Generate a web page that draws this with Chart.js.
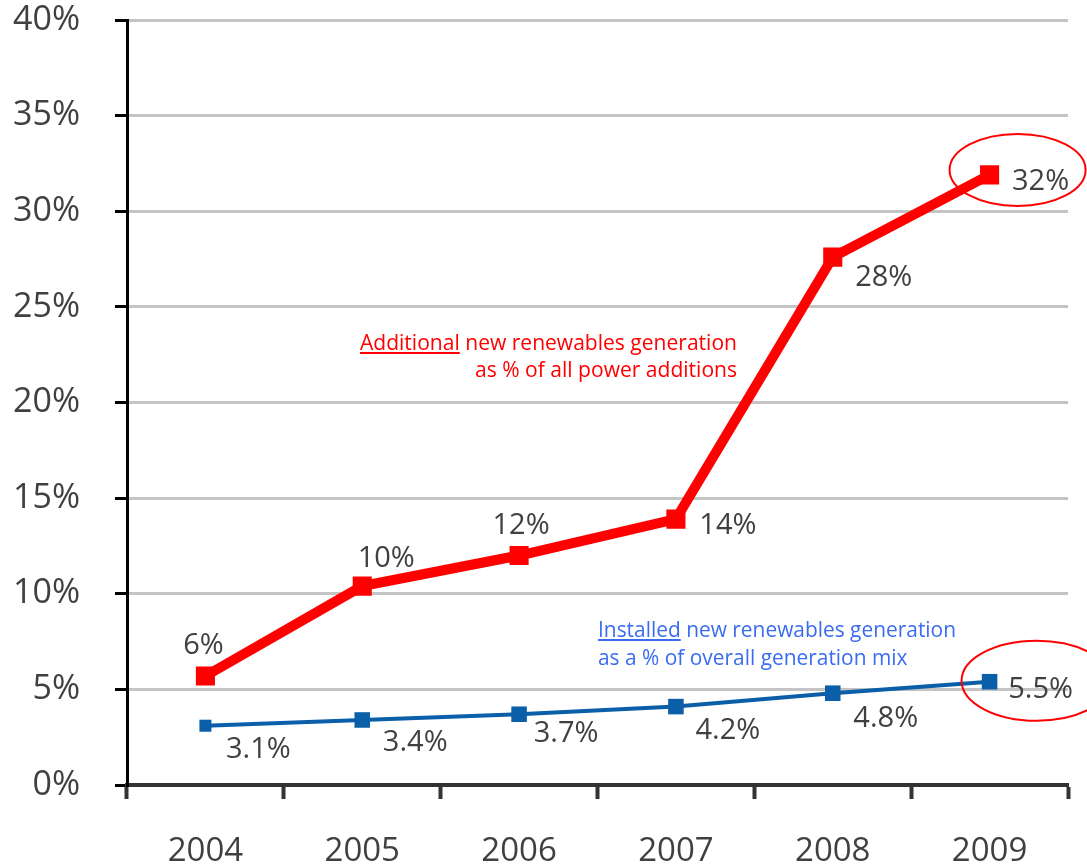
<!DOCTYPE html>
<html>
<head>
<meta charset="utf-8">
<script src="https://cdn.jsdelivr.net/npm/chart.js@4.4.0/dist/chart.umd.min.js"></script>
<style>
  body { margin: 0; background: #fff; }
  canvas { display: block; }
</style>
</head>
<body>
<canvas id="chart" width="1087" height="865"></canvas>
<script>
const years = ['2004', '2005', '2006', '2007', '2008', '2009'];
const additionsShare = [5.7, 10.4, 12.0, 13.9, 27.6, 31.9];
const additionsLabels = ['6%', '10%', '12%', '14%', '28%', '32%'];
const mixShare = [3.1, 3.4, 3.7, 4.1, 4.8, 5.4];
const mixLabels = ['3.1%', '3.4%', '3.7%', '4.2%', '4.8%', '5.5%'];
const yTicks = [0, 5, 10, 15, 20, 25, 30, 35, 40];

// label offsets from their point (style only)
const redLabelOffsets = [[-2, -32], [24, -29], [2, -32], [52, 5], [51, 19], [51, 5]];
const blueLabelOffsets = [[53, 22], [53, 21], [47, 18], [52, 22], [53, 24], [51, 6]];

const FONT = '"Open Sans", "Noto Sans", sans-serif';

function drawNote(ctx, lines, x, y0, lineGap, align, color, targetWidth, underlined) {
  ctx.save();
  ctx.font = '22px ' + FONT;
  const k = Math.min(1, targetWidth / ctx.measureText(lines[0]).width);
  ctx.fillStyle = color;
  ctx.strokeStyle = color;
  ctx.textBaseline = 'alphabetic';
  lines.forEach((line, i) => {
    const w = ctx.measureText(line).width * k;
    const left = align === 'right' ? x - w : x;
    const y = y0 + i * lineGap;
    ctx.save();
    ctx.translate(left, y);
    ctx.scale(k, 1);
    ctx.textAlign = 'left';
    ctx.fillText(line, 0, 0);
    ctx.restore();
    if (i === 0 && underlined) {
      const uw = ctx.measureText(underlined).width * k;
      ctx.lineWidth = 2;
      ctx.beginPath();
      ctx.moveTo(left, y + 3);
      ctx.lineTo(left + uw, y + 3);
      ctx.stroke();
    }
  });
  ctx.restore();
}

const extrasPlugin = {
  id: 'extras',
  afterDatasetsDraw(chart) {
    const ctx = chart.ctx;
    ctx.save();
    ctx.font = '29px ' + FONT;
    ctx.fillStyle = '#404040';
    ctx.textAlign = 'center';
    ctx.textBaseline = 'alphabetic';
    [[0, additionsLabels, redLabelOffsets], [1, mixLabels, blueLabelOffsets]].forEach(([di, texts, offs]) => {
      chart.getDatasetMeta(di).data.forEach((pt, i) => {
        ctx.fillText(texts[i], pt.x + offs[i][0], pt.y + offs[i][1] + 10);
      });
    });

    // circles around the 2009 values
    const red = chart.getDatasetMeta(0).data[5];
    const blue = chart.getDatasetMeta(1).data[5];
    ctx.strokeStyle = '#ff0000';
    ctx.lineWidth = 2;
    ctx.beginPath();
    ctx.ellipse(red.x + 28, red.y - 5, 68, 36, 0, 0, Math.PI * 2);
    ctx.stroke();
    ctx.beginPath();
    ctx.ellipse(blue.x + 47, blue.y - 1, 75, 40, 0, 0, Math.PI * 2);
    ctx.stroke();
    ctx.restore();

    drawNote(ctx, ['Additional new renewables generation', 'as % of all power additions'],
      737, 350, 27, 'right', '#ff0000', 377, 'Additional');
    drawNote(ctx, ['Installed new renewables generation', 'as a % of overall generation mix'],
      598, 637, 28, 'left', '#3a6cf0', 358, 'Installed');
  }
};

new Chart(document.getElementById('chart'), {
  type: 'line',
  data: {
    labels: years,
    datasets: [{
      data: additionsShare,
      borderColor: '#ff0000',
      backgroundColor: '#ff0000',
      borderWidth: 10,
      pointStyle: 'rect',
      pointRadius: 13.5,
      pointBorderWidth: 0,
      tension: 0
    }, {
      data: mixShare,
      borderColor: '#0a5fa8',
      backgroundColor: '#0a5fa8',
      borderWidth: 4,
      pointStyle: 'rect',
      pointRadius: [8.5, 11, 11, 11, 11, 11],
      pointBorderWidth: 0,
      tension: 0
    }]
  },
  options: {
    responsive: false,
    devicePixelRatio: 1,
    animation: false,
    layout: { padding: { left: 0, right: 19, top: 20, bottom: 0 } },
    plugins: {
      legend: { display: false },
      tooltip: { enabled: false }
    },
    scales: {
      x: {
        offset: true,
        afterFit: scale => { scale.height = 80; },
        border: { color: '#333333', width: 4 },
        grid: {
          offset: true,
          drawOnChartArea: false,
          tickLength: 14,
          tickColor: '#333333',
          tickWidth: 4
        },
        ticks: {
          color: '#404040',
          padding: 33,
          font: { family: FONT, size: 33 }
        }
      },
      y: {
        min: 0,
        max: 40,
        afterFit: scale => {
          scale.width = 127;
          scale.paddingTop = 0;
          scale.paddingBottom = 0;
        },
        afterBuildTicks: scale => { scale.ticks = yTicks.map(v => ({ value: v })); },
        border: { color: '#000000', width: 3 },
        grid: {
          color: '#c4c4c4',
          lineWidth: 3,
          tickLength: 12,
          tickColor: '#000000',
          tickWidth: 3
        },
        ticks: {
          color: '#404040',
          padding: 35,
          font: { family: FONT, size: 34 },
          callback: v => v + '%'
        }
      }
    }
  },
  plugins: [extrasPlugin]
});
</script>
</body>
</html>
